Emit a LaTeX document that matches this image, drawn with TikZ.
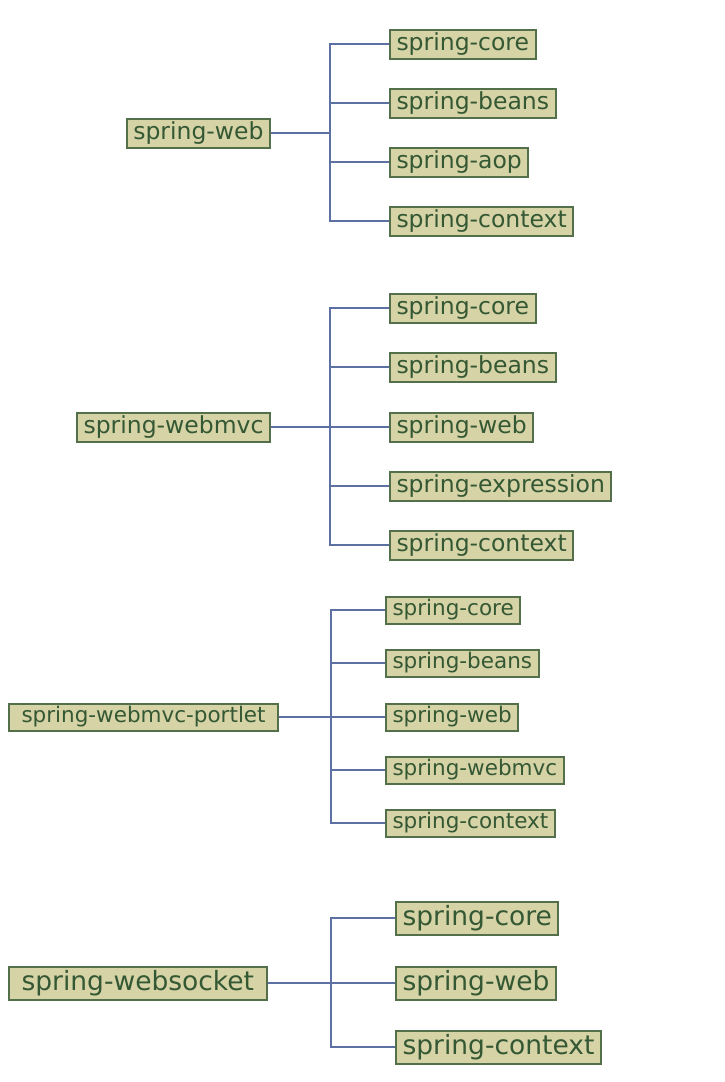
\documentclass[tikz,border=0pt]{standalone}
\usepackage{fontspec}
\setmainfont{DejaVu Sans}
\usepackage{xcolor}
\usetikzlibrary{positioning}

\definecolor{boxfill}{RGB}{214,211,166}
\definecolor{boxline}{RGB}{84,112,74}
\definecolor{boxtext}{RGB}{52,88,52}
\definecolor{wire}{RGB}{92,112,164}

\begin{document}
\begin{tikzpicture}[
    x=1pt, y=-1pt,
    module/.style={rectangle, draw=boxline, line width=2pt, fill=boxfill, text=boxtext,
        inner xsep=6.5pt, inner ysep=0pt, minimum height=29pt},
    small/.style={font=\fontsize{21.5}{24}\selectfont, minimum height=27pt},
    medium/.style={font=\fontsize{23.5}{26}\selectfont},
    large/.style={font=\fontsize{26.5}{29}\selectfont, minimum height=33pt},
    link/.style={draw=wire, line width=1.6pt}
]
    \useasboundingbox (0,0) rectangle (724,1082);

    % spring-web
    \node[module, medium, anchor=east] (web) at (271,133) {spring-web};
    \node[module, medium, anchor=west] (webcore) at (389,44) {spring-core};
    \node[module, medium, anchor=west] (webbeans) at (389,103) {spring-beans};
    \node[module, medium, anchor=west] (webaop) at (389,162) {spring-aop};
    \node[module, medium, anchor=west] (webcontext) at (389,221) {spring-context};
    \coordinate (webtop) at (330,44);
    \coordinate (webbot) at (330,221);

    % spring-webmvc
    \node[module, medium, anchor=east] (mvc) at (271,427) {spring-webmvc};
    \node[module, medium, anchor=west] (mvccore) at (389,308) {spring-core};
    \node[module, medium, anchor=west] (mvcbeans) at (389,367) {spring-beans};
    \node[module, medium, anchor=west] (mvcweb) at (389,427) {spring-web};
    \node[module, medium, anchor=west] (mvcexpr) at (389,486) {spring-expression};
    \node[module, medium, anchor=west] (mvccontext) at (389,545) {spring-context};
    \coordinate (mvctop) at (330,308);
    \coordinate (mvcbot) at (330,545);

    % spring-webmvc-portlet
    \node[module, small, anchor=west, inner xsep=12.5pt] (portlet) at (8,717) {spring-webmvc-portlet};
    \node[module, small, anchor=west] (portcore) at (385,610) {spring-core};
    \node[module, small, anchor=west] (portbeans) at (385,663) {spring-beans};
    \node[module, small, anchor=west] (portweb) at (385,717) {spring-web};
    \node[module, small, anchor=west] (portmvc) at (385,770) {spring-webmvc};
    \node[module, small, anchor=west] (portcontext) at (385,823) {spring-context};
    \coordinate (porttop) at (331,610);
    \coordinate (portbot) at (331,823);

    % spring-websocket
    \node[module, large, anchor=west, inner xsep=12.5pt] (socket) at (8,983) {spring-websocket};
    \node[module, large, anchor=west] (sockcore) at (395,918) {spring-core};
    \node[module, large, anchor=west] (sockweb) at (395,983) {spring-web};
    \node[module, large, anchor=west] (sockcontext) at (395,1047) {spring-context};
    \coordinate (socktop) at (331,918);
    \coordinate (sockbot) at (331,1047);

    % Links
    \draw[link] (web.east) -- (web.east -| webtop);
    \draw[link] (webcore.west) -- (webtop) -- (webbot) -- (webcontext.west);
    \draw[link] (webbeans.west) -- (webbeans.west -| webtop);
    \draw[link] (webaop.west) -- (webaop.west -| webtop);

    \draw[link] (mvc.east) -- (mvcweb.west);
    \draw[link] (mvccore.west) -- (mvctop) -- (mvcbot) -- (mvccontext.west);
    \draw[link] (mvcbeans.west) -- (mvcbeans.west -| mvctop);
    \draw[link] (mvcexpr.west) -- (mvcexpr.west -| mvctop);

    \draw[link] (portlet.east) -- (portweb.west);
    \draw[link] (portcore.west) -- (porttop) -- (portbot) -- (portcontext.west);
    \draw[link] (portbeans.west) -- (portbeans.west -| porttop);
    \draw[link] (portmvc.west) -- (portmvc.west -| porttop);

    \draw[link] (socket.east) -- (sockweb.west);
    \draw[link] (sockcore.west) -- (socktop) -- (sockbot) -- (sockcontext.west);
\end{tikzpicture}
\end{document}
